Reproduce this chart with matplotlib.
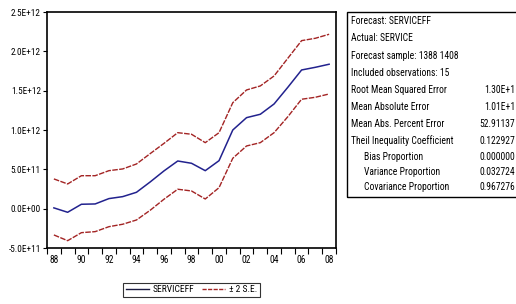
import matplotlib
matplotlib.use("Agg")
import matplotlib.pyplot as plt
from matplotlib.patches import Rectangle
from matplotlib.lines import Line2D
import numpy as np

plt.rcParams['font.family'] = ['Roboto Condensed', 'Archivo Narrow', 'DejaVu Sans']

# ---- data (values in units of 1E12) ----
years = list(range(1388, 1409))
serviceff = [0.01, -0.046, 0.056, 0.06, 0.128, 0.153, 0.208, 0.34, 0.48, 0.606,
             0.577, 0.483, 0.610, 1.000, 1.157, 1.200, 1.331, 1.543, 1.763, 1.797, 1.836]
upper_se = [0.378, 0.314, 0.419, 0.419, 0.483, 0.505, 0.568, 0.70, 0.83, 0.966,
            0.946, 0.839, 0.966, 1.347, 1.509, 1.560, 1.687, 1.912, 2.136, 2.166, 2.217]
lower_se = [-0.334, -0.407, -0.305, -0.292, -0.229, -0.198, -0.144, -0.02, 0.12, 0.247,
            0.225, 0.123, 0.267, 0.641, 0.797, 0.839, 0.966, 1.169, 1.391, 1.416, 1.458]
ytick_vals = [-0.5e12, 0.0, 0.5e12, 1.0e12, 1.5e12, 2.0e12, 2.5e12]
ytick_labels = ["-5.0E+11", "0.0E+00", "5.0E+11", "1.0E+12", "1.5E+12", "2.0E+12", "2.5E+12"]
legend_labels = ["SERVICEFF", "± 2 S.E."]
stats_labels = ["Forecast: SERVICEFF", "Actual: SERVICE", "Forecast sample: 1388 1408",
                "Included observations: 15", "Root Mean Squared Error", "Mean Absolute Error",
                "Mean Abs. Percent Error", "Theil Inequality Coefficient",
                "Bias Proportion", "Variance Proportion", "Covariance Proportion"]
stats_indent = [0, 0, 0, 0, 0, 0, 0, 0, 1, 1, 1]
stats_values = ["", "", "", "", "1.30E+1", "1.01E+1", "52.91137", "0.122927",
                "0.000000", "0.032724", "0.967276"]

W, H = 516, 304
fig = plt.figure(figsize=(W / 100, H / 100), dpi=100)
ax = fig.add_axes([47 / W, (H - 248) / H, 289 / W, 236 / H])

x = np.arange(len(years))
scale = 1e12
blue = "#22228e"
red = "#a32424"
ax.plot(x, np.array(upper_se) * scale, color=red, lw=1.0, ls=(0, (4, 1)))
ax.plot(x, np.array(lower_se) * scale, color=red, lw=1.0, ls=(0, (4, 1)))
ax.plot(x, np.array(serviceff) * scale, color=blue, lw=1.1)

ax.set_xlim(-0.5, len(years) - 0.5)
ax.set_ylim(-0.5e12, 2.5e12)

ax.set_yticks(ytick_vals)
ax.set_yticklabels(ytick_labels)
ax.tick_params(axis='y', direction='out', length=3, width=0.8, labelsize=6.7, pad=1.5)

# major: labels at data points (no tick mark); minor: tick marks at interval edges
lab_pos = [i for i, y in enumerate(years) if y % 2 == 0]
ax.set_xticks(lab_pos)
ax.set_xticklabels([str(years[i])[-2:] for i in lab_pos])
ax.set_xticks(np.arange(-0.5, len(years), 1.0), minor=True)
ax.tick_params(axis='x', which='major', length=0, labelsize=6.9, pad=5)
ax.tick_params(axis='x', which='minor', direction='out', length=4, width=0.8)

for s in ax.spines.values():
    s.set_linewidth(1.2)
    s.set_color("black")

# legend
handles = [Line2D([], [], color="#1a1a40", lw=1.0),
           Line2D([], [], color=red, lw=1.0, ls=(0, (3, 1)))]
leg = fig.legend(handles, legend_labels, loc='center', ncol=2,
                 bbox_to_anchor=(191.5 / W, 1 - 290 / H), frameon=True, fancybox=False,
                 edgecolor='black', fontsize=6.8, handlelength=2.4, handletextpad=0.4,
                 columnspacing=0.9, borderpad=0.3)
leg.get_frame().set_linewidth(0.8)

# stats box
fig.patches.append(Rectangle((347 / W, 1 - 197 / H), (W - 347 + 10) / W, (197 - 12) / H,
                             transform=fig.transFigure, fill=False, edgecolor='black',
                             lw=1.0, clip_on=False))
ys = [21, 38, 56, 73, 90, 107, 124, 141, 157, 172, 187]
for lab, ind, val, yy in zip(stats_labels, stats_indent, stats_values, ys):
    fig.text((351 + 13 * ind) / W, 1 - yy / H, lab, fontsize=6.9, va='center', ha='left')
    if val:
        fig.text(515 / W, 1 - yy / H, val, fontsize=6.9, va='center', ha='right')

fig.savefig("out.png", dpi=100)
